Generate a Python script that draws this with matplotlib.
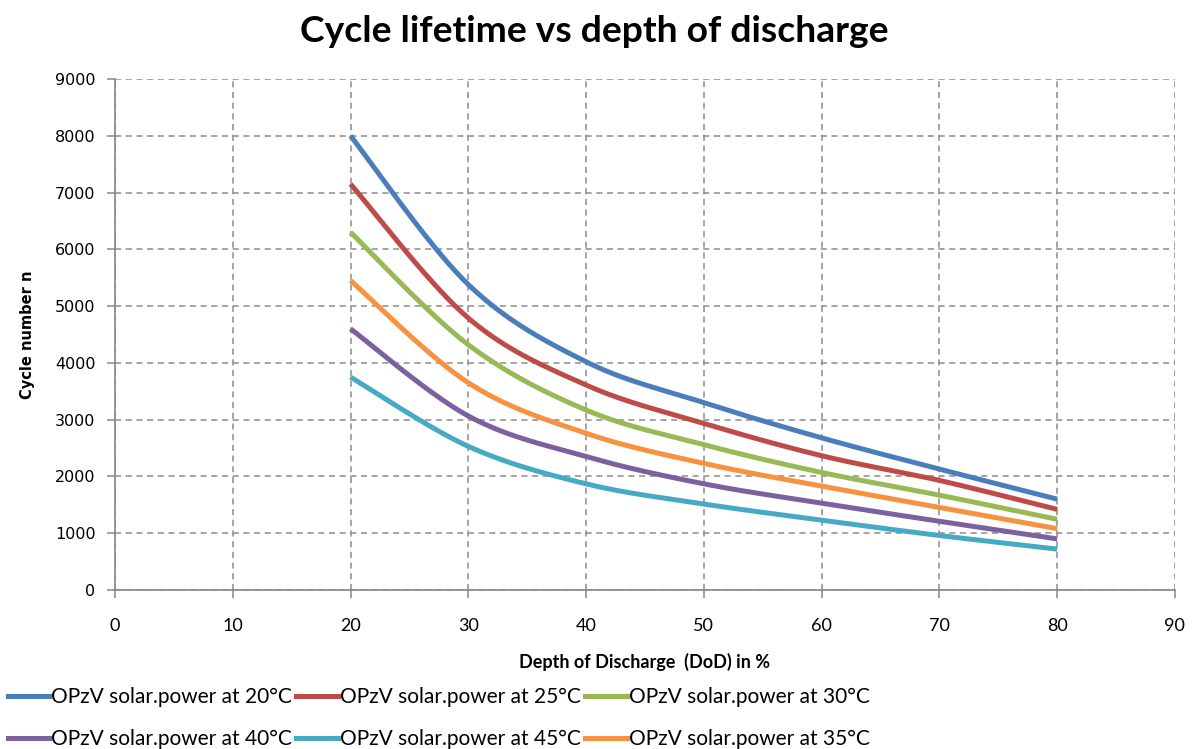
"""Cycle lifetime vs depth of discharge for OPzV solar.power cells (Excel-style smooth lines)."""

import matplotlib

matplotlib.use("Agg")
import matplotlib.pyplot as plt
import numpy as np
from matplotlib.lines import Line2D

dod = [20, 30, 40, 50, 60, 70, 80]

cycles_20 = [8000, 5380, 4020, 3300, 2680, 2130, 1600]
cycles_25 = [7150, 4790, 3610, 2935, 2365, 1930, 1420]
cycles_30 = [6300, 4320, 3170, 2560, 2070, 1670, 1245]
cycles_35 = [5450, 3650, 2760, 2230, 1830, 1455, 1080]
cycles_40 = [4600, 3065, 2350, 1870, 1530, 1210, 900]
cycles_45 = [3750, 2530, 1870, 1515, 1230, 960, 720]

labels = [
    "OPzV solar.power at 20°C",
    "OPzV solar.power at 25°C",
    "OPzV solar.power at 30°C",
    "OPzV solar.power at 35°C",
    "OPzV solar.power at 40°C",
    "OPzV solar.power at 45°C",
]
colors = ["#4A7EBB", "#BE4B48", "#98B954", "#F69240", "#7D60A0", "#46AAC5"]
series = [cycles_20, cycles_25, cycles_30, cycles_35, cycles_40, cycles_45]


def excel_smooth(x, y, steps=40):
    """Bezier through the points with Catmull-Rom style control points, like Excel's smoothed line."""
    x = np.asarray(x, float)
    y = np.asarray(y, float)
    px = np.concatenate([[x[0]], x, [x[-1]]])
    py = np.concatenate([[y[0]], y, [y[-1]]])
    t = np.linspace(0, 1, steps)
    out_x, out_y = [], []
    for i in range(1, len(px) - 2):
        p0 = np.array([px[i], py[i]])
        p3 = np.array([px[i + 1], py[i + 1]])
        c1 = p0 + (p3 - np.array([px[i - 1], py[i - 1]])) / 6
        c2 = p3 - (np.array([px[i + 2], py[i + 2]]) - p0) / 6
        b = (((1 - t) ** 3)[:, None] * p0 + (3 * (1 - t) ** 2 * t)[:, None] * c1
             + (3 * (1 - t) * t ** 2)[:, None] * c2 + (t ** 3)[:, None] * p3)
        out_x.extend(b[:, 0])
        out_y.extend(b[:, 1])
    return out_x, out_y


fig = plt.figure(figsize=(11.99, 7.49), dpi=100)
ax = fig.add_axes([0.0959, 0.2123, 0.884, 0.6822])

for vals, color in zip(series, colors):
    sx, sy = excel_smooth(dod, vals)
    ax.plot(sx, sy, color=color, linewidth=3.6, solid_capstyle="butt", zorder=3)

ax.set_xlim(0, 90)
ax.set_ylim(0, 9000)
ax.set_xticks(range(0, 91, 10))
ax.set_yticks(range(0, 9001, 1000))

grid_kw = dict(color="#8C8C8C", linestyle=(0, (4, 3)), linewidth=1.1)
ax.grid(True, **grid_kw)
ax.set_axisbelow(True)

for side in ("top", "right"):
    ax.spines[side].set_visible(False)
for side in ("left", "bottom"):
    ax.spines[side].set_color("#868686")
    ax.spines[side].set_linewidth(1.2)

ax.tick_params(axis="both", direction="out", length=6, width=1.1, color="#868686")
ax.tick_params(axis="y", pad=8)
ax.tick_params(axis="x", pad=14)
for lab in ax.get_yticklabels():
    lab.set_fontfamily("DejaVu Sans")
    lab.set_fontsize(11.5)
for lab in ax.get_xticklabels():
    lab.set_fontfamily("Lato")
    lab.set_fontsize(13)

ax.set_xlabel("Depth of Discharge  (DoD) in %", fontfamily="Lato", fontweight="bold",
              fontsize=13, labelpad=14)
ax.set_ylabel("Cycle number n", fontfamily="DejaVu Sans", fontweight="bold",
              fontsize=10.5, labelpad=14)

fig.text(0.496, 0.958, "Cycle lifetime vs depth of discharge", ha="center", va="center",
         fontfamily="Lato", fontweight="bold", fontsize=26.8)

# Legend: Excel fills it row by row, matplotlib column by column -> reorder
order = [0, 4, 1, 5, 2, 3]
handles = [Line2D([], [], color=colors[i], linewidth=3.6) for i in order]
fig.legend(handles, [labels[i] for i in order], ncol=3, loc="lower left",
           bbox_to_anchor=(-0.004, -0.017), frameon=False, prop={"family": "Lato", "size": 15},
           handlelength=2.0, handletextpad=0.1, columnspacing=0.2, labelspacing=1.05,
           borderaxespad=0.2)

fig.savefig("out.png", dpi=100)
